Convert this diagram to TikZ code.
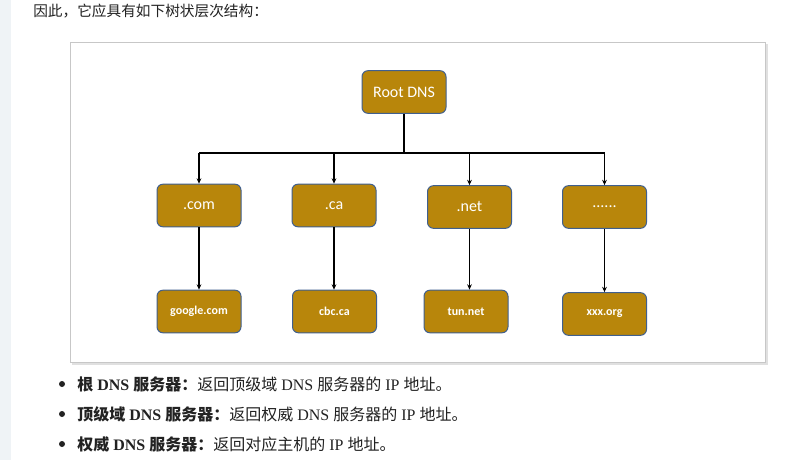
\documentclass[tikz,border=0pt]{standalone}
\usepackage{fontspec}
\setmainfont{Liberation Serif}
\newfontfamily\cjk{Noto Sans CJK SC}
\newfontfamily\boxfont{Carlito}
\usetikzlibrary{arrows.meta,positioning}
\definecolor{DnsGold}{HTML}{B8860B}
\definecolor{DnsEdge}{HTML}{3F5F8F}
\definecolor{PageStrip}{HTML}{EFF3F6}
\definecolor{BodyText}{HTML}{222222}
\newcommand{\zh}[1]{{\cjk #1}}

\begin{document}
\begin{tikzpicture}[
      x=0.75pt,y=-0.75pt,
      dnsbox/.style={draw=DnsEdge,line width=0.75pt,rounded corners=4.5pt,
                     fill=DnsGold,text=white,minimum width=63pt,
                     minimum height=32pt,inner sep=0pt,font=\boxfont\fontsize{12}{14}\selectfont},
      leafbox/.style={dnsbox,font=\boxfont\bfseries\fontsize{9}{11}\selectfont},
      trunk/.style={line width=1.5pt,black},
      arr/.style={-{Stealth[length=4pt,width=3.5pt]},line width=0.8pt,black},
      line/.style={anchor=west,inner sep=0pt,text=BodyText,font=\fontsize{12}{14}\selectfont},
      dot/.style={circle,fill=BodyText,inner sep=0pt,minimum size=4.5pt},
    ]
    \useasboundingbox (0,0) rectangle (800,460);
    \fill[white] (0,0) rectangle (800,460);
    \fill[PageStrip] (0,0) rectangle (11,460);

    % heading
    \node[anchor=west,inner sep=0pt,text=BodyText,font=\cjk\fontsize{11}{13}\selectfont] (head) at (33,11)
      {因此，它应具有如下树状层次结构：};

    % picture frame with shadow
    \fill[black!12] (72,44) rectangle (768,365);
    \fill[black!28] (71,43) rectangle (766,363);
    \filldraw[fill=white,draw=black!22,line width=0.6pt] (70,42) rectangle (765,362);

    % tree
    \node[dnsbox] (root) at (404,92) {Root DNS};
    \node[dnsbox] (com)  at (199,205.5) {.com};
    \node[dnsbox] (ca)   at (334,205.5) {.ca};
    \node[dnsbox] (net)  at (469.5,207) {.net};
    \node[dnsbox] (dots) at (604.5,207) {......};
    \node[leafbox] (google) at (199,311.5) {google.com};
    \node[leafbox] (cbc)    at (334.5,311.5) {cbc.ca};
    \node[leafbox] (tun)    at (466,311.5) {tun.net};
    \node[leafbox] (xxx)    at (604.5,314) {xxx.org};

    \coordinate (hub) at (404,153);
    \draw[trunk] (root) -- (hub);
    \draw[trunk] (com |- hub) -- (dots |- hub);
    \foreach \n in {com,ca,net,dots}
      \draw[arr] (\n |- hub) -- (\n);
    \foreach \a/\b in {com/google,ca/cbc,net/tun,dots/xxx}
      \draw[arr] (\a) -- (\a |- \b.north);

    % bullet list
    \node[dot] (d1) at (62,384) {};
    \node[dot] (d2) at (62,414) {};
    \node[dot] (d3) at (62,444) {};
    \node[line] (l1) at (77,384)
      {\textbf{\zh{根} DNS \zh{服务器：}}\zh{返回顶级域} DNS \zh{服务器的} IP \zh{地址。}};
    \node[line] (l2) at (77,414)
      {\textbf{\zh{顶级域} DNS \zh{服务器：}}\zh{返回权威} DNS \zh{服务器的} IP \zh{地址。}};
    \node[line] (l3) at (77,444)
      {\textbf{\zh{权威} DNS \zh{服务器：}}\zh{返回对应主机的} IP \zh{地址。}};
  \end{tikzpicture}
\end{document}
